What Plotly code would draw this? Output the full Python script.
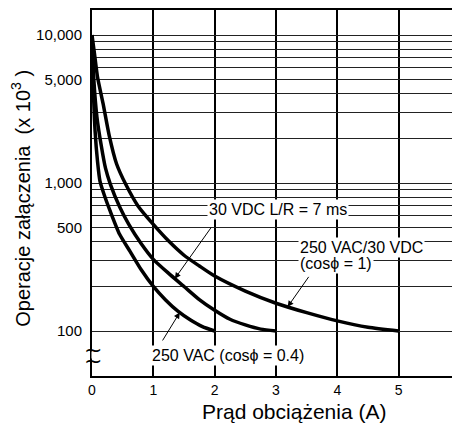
import numpy as np
import plotly.graph_objects as go

# ---- data ----
x_ac04 = [0, 0.02, 0.05, 0.09, 0.13, 0.2, 0.3, 0.45, 0.62, 0.8, 1.0, 1.2, 1.4, 1.6, 1.8, 2.0]
y_ac04 = [10000, 4500, 2250, 1400, 1030, 830, 640, 450, 345, 260, 200, 162, 136, 119, 107, 100]

x_dc7 = [0, 0.03, 0.08, 0.15, 0.22, 0.3, 0.45, 0.6, 0.8, 1.0, 1.25, 1.5, 1.75, 2.0, 2.25, 2.5, 2.75, 3.0]
y_dc7 = [10000, 5000, 2800, 1800, 1260, 980, 690, 525, 390, 305, 245, 200, 163, 138, 120, 110, 103, 100]

x_res = [0, 0.04, 0.09, 0.18, 0.28, 0.4, 0.55, 0.75, 1.0, 1.25, 1.5, 1.75, 2.0, 2.5, 3.0, 3.5, 4.0, 4.5, 5.0]
y_res = [10000, 7500, 5200, 3450, 2100, 1350, 980, 700, 525, 405, 325, 275, 235, 186, 154, 133, 117, 106, 100]

x_ticks = [0, 1, 2, 3, 4, 5]
x_labels = ["0", "1", "2", "3", "4", "5"]
y_grid = [100, 200, 300, 400, 500, 600, 700, 800, 900,
          1000, 2000, 3000, 4000, 5000, 6000, 7000, 8000, 9000, 10000]
y_labels = ["100", "", "", "", "500", "", "", "", "",
            "1,000", "", "", "", "5,000", "", "", "", "", "10,000"]

FONT = "Liberation Sans, Arial, sans-serif"

fig = go.Figure()
for xs, ys in [(x_ac04, y_ac04), (x_dc7, y_dc7), (x_res, y_res)]:
    fig.add_trace(go.Scatter(x=xs, y=ys, mode="lines",
                             line=dict(color="black", width=3.5, shape="spline", smoothing=0.6),
                             hoverinfo="skip"))


def on_curve(xs, ys, x):
    return float(np.interp(x, xs, np.log10(ys)))


anns = []
# text labels with white background
anns.append(dict(x=3.03, y=2.822, xref="x", yref="y", text="30 VDC L/R = 7 ms", showarrow=False,
                 font=dict(size=16, color="black", family=FONT), bgcolor="white", borderpad=1))
anns.append(dict(x=3.36, y=2.565, xref="x", yref="y", text="250 VAC/30 VDC", showarrow=False, xanchor="left",
                 font=dict(size=16, color="black", family=FONT), bgcolor="white", borderpad=1))
anns.append(dict(x=3.36, y=2.455, xref="x", yref="y", text="(cosϕ = 1)", showarrow=False, xanchor="left",
                 font=dict(size=16, color="black", family=FONT), bgcolor="white", borderpad=1))
anns.append(dict(x=2.22, y=1.836, xref="x", yref="y", text="250 VAC (cosϕ = 0.4)", showarrow=False,
                 font=dict(size=16, color="black", family=FONT), bgcolor="white", borderpad=1))

# arrows pointing at curves
for (xs, ys, xh, axt, ayt) in [(x_dc7, y_dc7, 1.35, 1.956, 2.707),
                               (x_res, y_res, 3.19, 3.55, 2.376),
                               (x_ac04, y_ac04, 1.43, 1.136, 1.926)]:
    anns.append(dict(x=xh, y=on_curve(xs, ys, xh), xref="x", yref="y", ax=axt, ay=ayt,
                     axref="x", ayref="y", text="", showarrow=True, arrowhead=2, arrowsize=1.2,
                     arrowwidth=1, arrowcolor="black"))

# axis break symbol
anns.append(dict(x=0, y=1.836, xref="x", yref="y", text="&nbsp;", showarrow=False,
                 font=dict(size=5), bgcolor="white", borderpad=0))
for yb in (1.872, 1.802):
    anns.append(dict(x=0.02, y=yb, xref="x", yref="y", text="~", showarrow=False,
                     font=dict(size=22, color="black", family="DejaVu Sans")))

# axis titles
anns.append(dict(x=-0.193, y=0.487, xref="paper", yref="paper", xanchor="center", yanchor="middle",
                 text="Operacje załączenia\u00a0 (x 10<sup>3</sup> )",
                 textangle=-90, showarrow=False, font=dict(size=20, color="black", family=FONT)))
anns.append(dict(x=0.549, y=-0.096, xref="paper", yref="paper", xanchor="center", yanchor="middle",
                 text="Prąd obciążenia (A)",
                 showarrow=False, font=dict(size=21, color="black", family=FONT)))

fig.update_layout(
    width=452, height=417,
    margin=dict(l=84, r=0, t=2, b=49, autoexpand=False),
    plot_bgcolor="white", paper_bgcolor="white",
    showlegend=False,
    font=dict(family=FONT, color="black"),
    annotations=anns,
    xaxis=dict(range=[0, 6], tickvals=x_ticks, ticktext=x_labels, showgrid=True,
               gridcolor="black", gridwidth=1.5, showline=True, linecolor="black", linewidth=2,
               mirror=True, ticks="", zeroline=False, tickfont=dict(size=14), ticklabelstandoff=0,
               automargin=False),
    yaxis=dict(type="log", range=[1.696, 4.169], tickvals=y_grid, ticktext=y_labels, showgrid=True,
               gridcolor="#222", gridwidth=1, showline=True, linecolor="black", linewidth=2,
               ticks="", zeroline=False, tickfont=dict(size=15), ticklabelstandoff=5,
               automargin=False),
)

fig.write_html("out.html")
